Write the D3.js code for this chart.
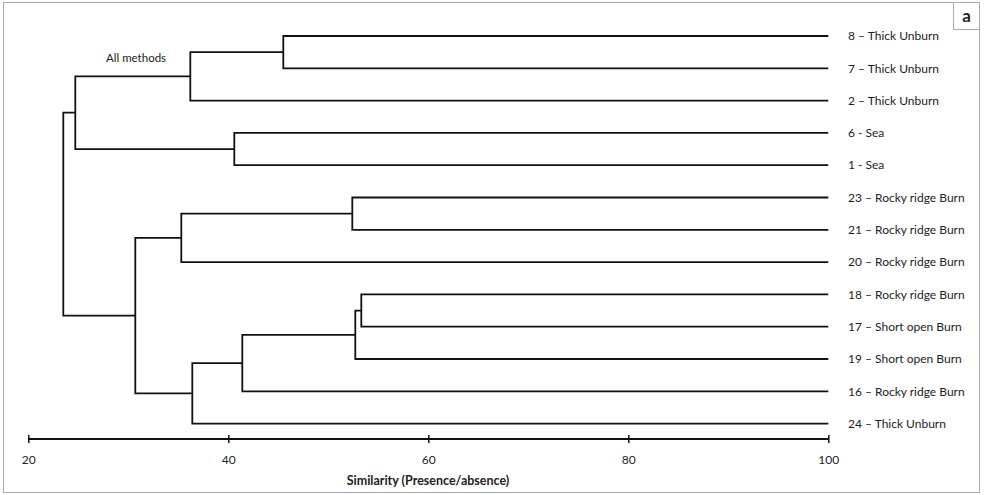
<!DOCTYPE html>
<html>
<head>
<meta charset="utf-8">
<script src="https://cdn.jsdelivr.net/npm/d3@7"></script>
<style>
  html, body { margin: 0; padding: 0; background: #fff; }
  svg { display: block; font-family: Lato, "Open Sans", sans-serif; }
</style>
</head>
<body>
<svg id="chart" width="986" height="495"></svg>
<script>
// ---- data ----
const leafLabels = [
  "8 – Thick Unburn", "7 – Thick Unburn", "2 – Thick Unburn",
  "6 - Sea", "1 - Sea",
  "23 – Rocky ridge Burn", "21 – Rocky ridge Burn", "20 – Rocky ridge Burn",
  "18 – Rocky ridge Burn", "17 – Short open Burn", "19 – Short open Burn",
  "16 – Rocky ridge Burn", "24 – Thick Unburn"
];
// linkage: leaves are 0..12, merge k creates node 13+k
const mergeA   = [0, 13, 3, 14, 5, 17, 8, 19, 20, 21, 18, 16];
const mergeB   = [1, 2, 4, 15, 6, 7, 9, 10, 11, 12, 22, 23];
const mergeSim = [45.5, 36.2, 40.6, 24.7, 52.4, 35.3, 53.3, 52.7, 41.4, 36.4, 30.7, 23.5];
const tickValues = [20, 40, 60, 80, 100];
const axisTitle = "Similarity (Presence/absence)";
const clusterNote = "All methods";
const panelLetter = "a";

// ---- build hierarchy ----
const nodes = leafLabels.map((name, i) => ({ id: i, name, sim: 100 }));
mergeA.forEach((a, k) => {
  nodes.push({ id: leafLabels.length + k, sim: mergeSim[k], children: [nodes[a], nodes[mergeB[k]]] });
});
const root = d3.hierarchy(nodes[nodes.length - 1]);

const svg = d3.select("#chart");
const x = d3.scaleLinear().domain([20, 100]).range([28.3, 828.3]);
const y = d3.scalePoint().domain(leafLabels).range([36, 423.6]);

// positions
root.eachAfter(n => {
  n.px = x(n.data.sim);
  if (n.children) n.py = d3.mean(n.children, c => c.py);
  else n.py = y(n.data.name);
});

// frame
svg.append("rect").attr("x", 3.5).attr("y", 2.5).attr("width", 976).attr("height", 490)
  .attr("fill", "none").attr("stroke", "#aaa").attr("stroke-width", 1);

// panel letter box
svg.append("rect").attr("x", 953.5).attr("y", 2.5).attr("width", 26).attr("height", 27)
  .attr("fill", "#fff").attr("stroke", "#aaa").attr("stroke-width", 1);
svg.append("text").attr("x", 966.5).attr("y", 22).attr("text-anchor", "middle")
  .attr("font-size", 17).attr("font-weight", "bold").attr("fill", "#222").text(panelLetter);

// links (elbows)
const g = svg.append("g");
root.descendants().filter(n => n.children).forEach(n => {
  const p = d3.path();
  const [c1, c2] = n.children;
  p.moveTo(c1.px, c1.py);
  p.lineTo(n.px, c1.py);
  p.lineTo(n.px, c2.py);
  p.lineTo(c2.px, c2.py);
  g.append("path").attr("d", p.toString()).attr("fill", "none")
    .attr("stroke", "#111").attr("stroke-width", 1.8);
});

// leaf labels
root.leaves().forEach(n => {
  svg.append("text").attr("x", 848).attr("y", n.py).attr("dy", "0.35em")
    .attr("font-size", 12).attr("fill", "#222").text(n.data.name);
});

// note
svg.append("text").attr("x", 106).attr("y", 58).attr("dy", "0.35em")
  .attr("font-size", 11.5).attr("fill", "#222").text(clusterNote);

// axis
const axis = d3.axisBottom(x).tickValues(tickValues).tickSize(4).tickPadding(12).tickFormat(d3.format("d"));
const ax = svg.append("g").attr("transform", "translate(0,439)").call(axis);
ax.select(".domain").attr("stroke", "#111").attr("stroke-width", 2).attr("d", `M${x(20)},0H${x(100)}`);
ax.selectAll(".tick line").attr("y1", -4).attr("y2", 4).attr("stroke", "#111").attr("stroke-width", 1.5);
ax.selectAll(".tick text").attr("font-size", 12).attr("fill", "#222")
  .attr("font-family", "Lato, 'Open Sans', sans-serif");

svg.append("text").attr("x", 428).attr("y", 481).attr("dy", "0.35em").attr("text-anchor", "middle")
  .attr("font-size", 12.5).attr("font-weight", "bold").attr("fill", "#222").text(axisTitle);
</script>
</body>
</html>
